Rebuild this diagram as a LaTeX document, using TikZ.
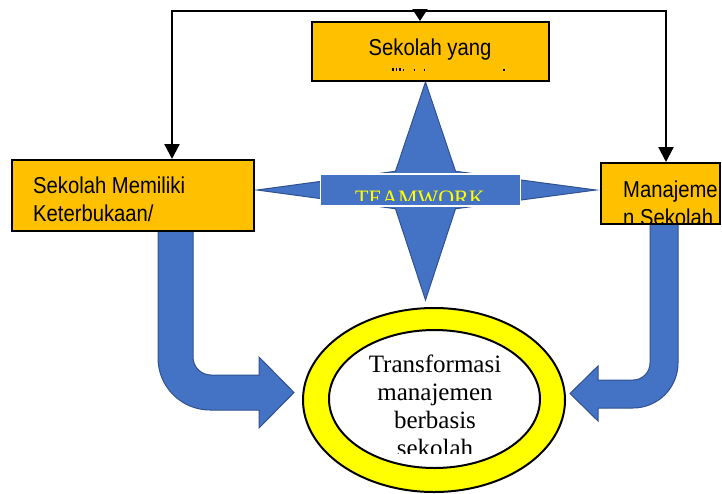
\documentclass[tikz,border=0pt]{standalone}
\usepackage{graphicx}
\usepackage{fontspec}
\setmainfont{Liberation Serif}
\newfontfamily\arialf{Liberation Sans}
\usetikzlibrary{arrows.meta,shapes.geometric}
\definecolor{orangebox}{HTML}{FFC000}
\definecolor{blueshape}{HTML}{4472C4}
\definecolor{blueedge}{HTML}{2F528F}
\definecolor{yellowring}{HTML}{FFFF00}
\newcommand\nrw[1]{\scalebox{0.88}[1]{#1}}
\begin{document}
\begin{tikzpicture}[x=1pt,y=-1pt,
  box/.style={draw=black, line width=2pt, fill=orangebox, rectangle, inner sep=0pt},
  conn/.style={line width=2.2pt, -{Triangle[length=15pt,width=15pt]}},
  connshort/.style={line width=2.2pt, -{Triangle[length=12pt,width=15pt]}},
  bluearrow/.style={fill=blueshape, draw=blueedge, line width=1pt},
  sanslbl/.style={font=\arialf\fontsize{23}{27}\selectfont, inner sep=0pt, anchor=base west},
  serlbl/.style={font=\fontsize{25}{28}\selectfont, inner sep=0pt, anchor=base},
]
\useasboundingbox (0,0) rectangle (722,493);

% bent blue arrows
\draw[bluearrow] (158,231) -- (158,358) .. controls (158,386.7) and (181.3,410) .. (210,410)
  -- (259,410) -- (259,428) -- (294,392.5) -- (259,357) -- (259,375) -- (211,375)
  .. controls (201.06,375) and (193,366.94) .. (193,357) -- (193,231) -- cycle;
\draw[bluearrow] (650,224) -- (650,363) .. controls (650,372.4) and (642.4,380) .. (633,380)
  -- (598,380) -- (598,366) -- (570,393.5) -- (598,421) -- (598,408) -- (633,408)
  .. controls (657.85,408) and (678,387.85) .. (678,363) -- (678,224) -- cycle;

% four-pointed star
\draw[bluearrow] (425.5,82) -- (455.5,171.25) -- (596,190) -- (455.5,208.75) -- (425.5,300)
  -- (395.5,208.75) -- (257,190) -- (395.5,171.25) -- cycle;

% TEAMWORK bar
\node[draw=white, line width=1.5pt, fill=blueshape, minimum width=200pt, minimum height=32pt, inner sep=0pt] (team) at (420.5,190) {};
\begin{scope}
  \clip (322,175) rectangle (519,200);
  \node[font=\fontsize{22}{22}\selectfont, text=yellowring, anchor=base, inner sep=0pt] (teamtxt) at (420,205.5) {TEAMWORK};
\end{scope}

% boxes
\node[box, minimum width=237pt, minimum height=59pt] (top) at (430.5,51.5) {};
\node[box, minimum width=242pt, minimum height=71pt] (left) at (133,195.5) {};
\node[box, minimum width=119pt, minimum height=61pt] (right) at (660.5,193.5) {};

\node[sanslbl, anchor=base] (toptxt) at (430,55) {\nrw{Sekolah yang}};
\fill (392,68) rectangle (393.5,70.5);
\fill (395.5,68) rectangle (397,70.5);
\fill (399,68) rectangle (400.5,70.5);
\fill (402.5,68.5) rectangle (404,70.5);
\fill (413.5,68.5) rectangle (415,70.5);
\fill (423.5,68.5) rectangle (425,70.5);
\fill (503,68.5) rectangle (504.5,70.5);

\node[sanslbl] (l1) at (33,193) {\nrw{Sekolah Memiliki}};
\node[sanslbl] (l2) at (33,221) {\nrw{Keterbukaan/}};

\node[sanslbl] (r1) at (623,197) {\nrw{Manajeme}};
\begin{scope}
  \clip (602,164) rectangle (719,222);
  \node[sanslbl] (r2) at (623,225) {\nrw{n Sekolah}};
\end{scope}

% ring
\node[ellipse, draw=black, line width=2pt, fill=yellowring, minimum width=262pt, minimum height=184pt, inner sep=0pt] (ring) at (434,400) {};
\node[ellipse, draw=black, line width=2pt, fill=white, minimum width=211pt, minimum height=138pt, inner sep=0pt] (hole) at (434.5,399) {};
\begin{scope}
  \clip (320,340) rectangle (550,453);
  \node[serlbl] (e1) at (435,372) {Transformasi};
  \node[serlbl] (e2) at (435,400) {manajemen};
  \node[serlbl] (e3) at (435,428) {berbasis};
  \node[serlbl] (e4) at (435,456) {sekolah};
\end{scope}

% black connectors
\coordinate (tl) at (172,11);
\coordinate (tm) at (420,11);
\coordinate (tr) at (666,11);
\draw[conn] (tm) -- (tl) -- (tl |- left.north);
\draw[conn] (tm) -- (tr) -- (tr |- right.north);
\draw[connshort] (tm) -- (tm |- top.north);
\end{tikzpicture}
\end{document}
